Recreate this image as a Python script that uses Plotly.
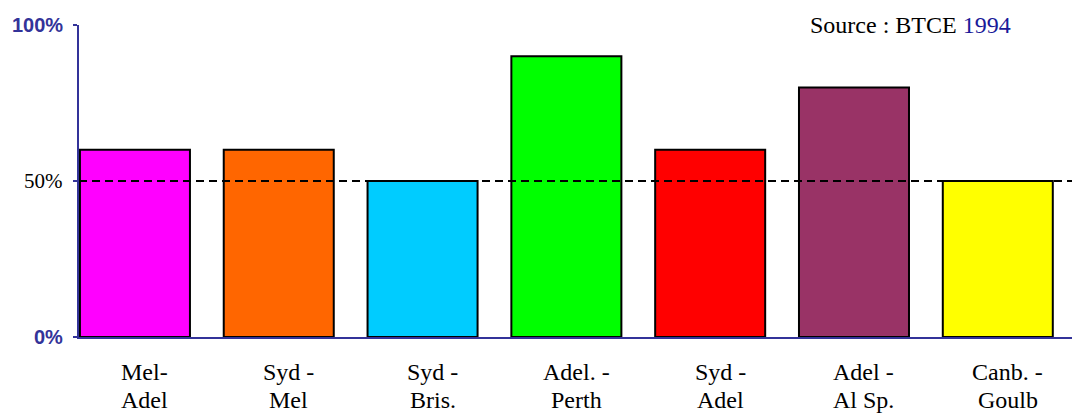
import plotly.graph_objects as go

# Route pairs and share values (%)
routes = ["Mel-|Adel", "Syd -|Mel", "Syd -|Bris.", "Adel. -|Perth",
          "Syd -|Adel", "Adel -|Al Sp.", "Canb. -|Goulb"]
shares = [60, 60, 50, 90, 60, 80, 50]
bar_colors = ["#FF00FF", "#FF6600", "#00CCFF", "#00FF00",
              "#FF0000", "#993366", "#FFFF00"]
reference_level = 50
y_ticks = [0, 50, 100]
y_tick_text = ["0%", "50%", "100%"]
source_text = "Source : BTCE "
source_year = "1994"

AXIS_BLUE = "#333399"
SERIF = "Liberation Serif, Times New Roman, serif"
SANS = "Liberation Sans, Arial, sans-serif"

W, H = 1072, 414
M_L, M_R, M_T, M_B = 79, 0, 25, 77
plot_h = H - M_T - M_B

fig = go.Figure()
fig.add_trace(go.Bar(
    x=routes, y=shares,
    marker=dict(color=bar_colors, line=dict(color="black", width=2)),
    width=0.765,
    hoverinfo="skip",
))

# Dashed reference line across the plot
fig.add_shape(type="line", xref="paper", yref="y", x0=0, x1=1,
              y0=reference_level, y1=reference_level,
              line=dict(color="black", width=2, dash="8px,5px"), layer="above")

annotations = []
# Category labels on two lines
for i, r in enumerate(routes):
    top, bottom = r.split("|")
    for line_txt, px in ((top, 372), (bottom, 400)):
        annotations.append(dict(
            x=i, xref="x", y=0, yref="paper", yanchor="middle",
            yshift=-(px - (H - M_B)), xshift=10,
            text=line_txt, showarrow=False,
            font=dict(family=SERIF, size=24, color="black")))

# Y tick labels with their individual styles
tick_styles = {
    "0%": dict(family=SANS, size=20, color=AXIS_BLUE, bold=True),
    "50%": dict(family=SERIF, size=21, color="black", bold=False),
    "100%": dict(family=SANS, size=20, color=AXIS_BLUE, bold=True),
}
for v, t in zip(y_ticks, y_tick_text):
    st = tick_styles[t]
    label = f"<b>{t}</b>" if st["bold"] else t
    annotations.append(dict(
        x=0, xref="paper", xanchor="right", xshift=-14,
        y=v, yref="y", yanchor="middle",
        text=label, showarrow=False,
        font=dict(family=st["family"], size=st["size"], color=st["color"])))

# Source note
annotations.append(dict(
    x=(910 - M_L) / (W - M_L - M_R), xref="paper", y=1, yref="paper",
    yanchor="middle", xanchor="center", yshift=0,
    text=f"{source_text}<span style='color:#1a1a99'>{source_year}</span>",
    showarrow=False, font=dict(family=SERIF, size=24, color="black")))

fig.update_layout(
    width=W, height=H,
    margin=dict(l=M_L, r=M_R, t=M_T, b=M_B, pad=0),
    paper_bgcolor="white", plot_bgcolor="white",
    showlegend=False,
    annotations=annotations,
    xaxis=dict(type="category", range=[-0.389, 6.516],
               showline=True, linecolor=AXIS_BLUE, linewidth=2,
               showticklabels=False, ticks="", showgrid=False, zeroline=False,
               fixedrange=True),
    yaxis=dict(range=[0, 100], tickvals=y_ticks, showticklabels=False,
               ticks="outside", ticklen=4, tickwidth=2, tickcolor=AXIS_BLUE,
               showline=True, linecolor=AXIS_BLUE, linewidth=2,
               showgrid=False, zeroline=False, fixedrange=True),
)

fig.write_html("out.html")
